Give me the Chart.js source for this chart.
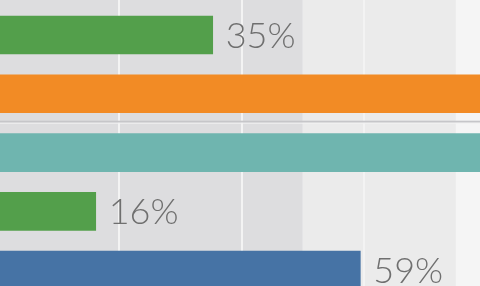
<!DOCTYPE html>
<html>
<head>
<meta charset="utf-8">
<script src="https://cdn.jsdelivr.net/npm/chart.js@4"></script>
<style>
    html, body { margin: 0; padding: 0; overflow: hidden; background: #f4f4f4; }
    #wrap { width: 480px; height: 286px; }
</style>
</head>
<body>
<div id="wrap"><canvas id="barChart"></canvas></div>
<script>
const categories = [0, 1, 2, 3, 4];
const values = [35.3, 85, 82, 16.2, 59.4];
const barColors = ["#539f4b", "#f28b25", "#6fb5af", "#539f4b", "#4673a5"];
const gridTicks = [20, 40, 60];
const bands = [
    { from: -5, to: 50, color: "#dddddf" },
    { from: 50, to: 75, color: "#ebebeb" },
    { from: 75, to: 120, color: "#f5f5f5" },
];
const dividerAfter = 1;

const bandPlugin = {
    id: "bands",
    beforeDraw(chart) {
        const { ctx, chartArea, scales } = chart;
        ctx.save();
        bands.forEach((b) => {
            const x1 = Math.max(chartArea.left, scales.x.getPixelForValue(b.from));
            const x2 = Math.min(chartArea.right, scales.x.getPixelForValue(b.to));
            ctx.fillStyle = b.color;
            ctx.fillRect(x1, 0, x2 - x1, chart.height);
        });
        ctx.restore();
    },
    beforeDatasetsDraw(chart) {
        const { ctx, chartArea, scales } = chart;
        const y = (scales.y.getPixelForValue(dividerAfter) + scales.y.getPixelForValue(dividerAfter + 1)) / 2 - 1.5;
        ctx.save();
        ctx.fillStyle = "#c6c6c9";
        ctx.fillRect(chartArea.left, y - 1, chartArea.right - chartArea.left, 2);
        ctx.fillStyle = "#f2f2f2";
        ctx.fillRect(chartArea.left, y + 1, chartArea.right - chartArea.left, 1);
        ctx.restore();
    },
    afterDatasetsDraw(chart) {
        const { ctx } = chart;
        const meta = chart.getDatasetMeta(0);
        ctx.save();
        ctx.font = "300 36px Lato";
        ctx.fillStyle = "#6f6f6f";
        ctx.textBaseline = "middle";
        meta.data.forEach((bar, i) => {
            ctx.fillText(Math.round(values[i]) + "%", bar.x + 13, bar.y + 1);
        });
        ctx.restore();
    },
};

new Chart(document.getElementById("barChart"), {
    type: "bar",
    data: {
        datasets: [
            {
                data: categories.map((c, i) => ({ x: values[i], y: c })),
                backgroundColor: barColors,
                barThickness: 38,
            },
        ],
    },
    options: {
        indexAxis: "y",
        responsive: true,
        maintainAspectRatio: false,
        animation: false,
        layout: { padding: 0 },
        plugins: { legend: { display: false }, tooltip: { enabled: false } },
        scales: {
            x: {
                min: 0.57,
                max: 78.94,
                afterBuildTicks: (axis) => {
                    axis.ticks = gridTicks.map((v) => ({ value: v }));
                },
                ticks: { display: false },
                grid: { color: "#f3f3f3", lineWidth: 2, drawTicks: false, tickLength: 0 },
                border: { display: false },
            },
            y: {
                type: "linear",
                reverse: true,
                offset: false,
                grid: { offset: false },
                min: -0.595,
                max: 4.269,
                display: false,
            },
        },
    },
    plugins: [bandPlugin],
});
</script>
</body>
</html>
